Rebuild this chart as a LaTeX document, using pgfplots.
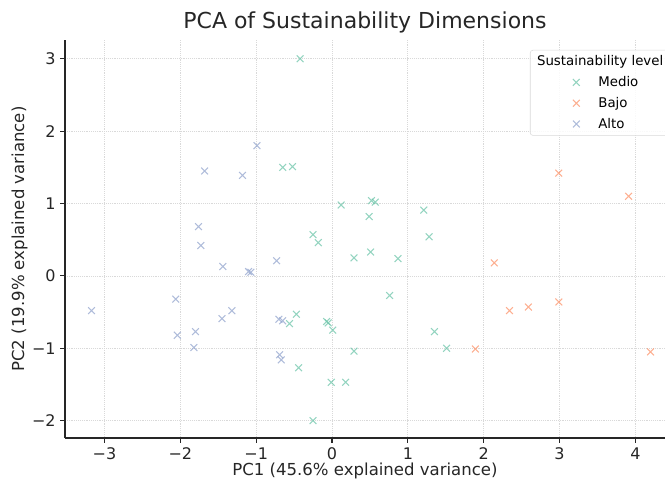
\documentclass[border=0pt]{standalone}
\usepackage{pgfplots}
\pgfplotsset{compat=1.18}
\usepackage{fontspec}
\setmainfont{DejaVu Sans}
\definecolor{cmedio}{HTML}{66C2A5}
\definecolor{cbajo}{HTML}{FC8D62}
\definecolor{calto}{HTML}{8DA0CB}
\definecolor{axgray}{HTML}{262626}
\begin{document}
\begin{tikzpicture}
\begin{axis}[
  scale only axis,
  width=450pt, height=298.5pt,
  xmin=-3.52, xmax=4.39, ymin=-2.24, ymax=3.26,
  axis x line*=bottom, axis y line*=left,
  axis line style={-, axgray, line width=1pt},
  xtick={-3,-2,-1,0,1,2,3,4},
  xticklabels={−3,−2,−1,0,1,2,3,4},
  ytick={-2,-1,0,1,2,3},
  yticklabels={−2,−1,0,1,2,3},
  tick align=outside,
  major tick length=3.5pt,
  tick style={axgray, line width=0.8pt},
  ticklabel style={font=\fontsize{12}{14}\selectfont, text=axgray},
  grid=major,
  major grid style={gray!30, densely dotted, line width=0.6pt},
  title={PCA of Sustainability Dimensions},
  title style={font=\fontsize{16.5}{19}\selectfont, text=axgray, yshift=-4pt},
  xlabel={PC1 (45.6\% explained variance)},
  ylabel={PC2 (19.9\% explained variance)},
  label style={font=\fontsize{12.4}{14}\selectfont, text=axgray},
  xlabel style={yshift=4.5pt},
  ylabel style={yshift=-3.5pt},
  legend style={at={(0.775,0.975)}, anchor=north west, draw=gray!30, fill=white, fill opacity=0.85, text opacity=1,
    rounded corners=2pt, font=\fontsize{10}{12}\selectfont, inner xsep=26pt, inner ysep=2pt,
    row sep=2.5pt},
  legend cell align=left,
]
\addlegendimage{empty legend}
\addlegendentry{\hspace*{-34pt}Sustainability level}
\addplot[only marks, mark=x, mark size=3.6pt, draw=cmedio, line width=0.8pt, draw opacity=0.7] coordinates {
(-0.42,3.00) (-0.65,1.50) (-0.52,1.51) (0.12,0.98) (0.52,1.04) (0.57,1.02)
(0.49,0.82) (1.21,0.91) (1.28,0.54) (-0.25,0.57) (-0.18,0.46) (0.29,0.25)
(0.51,0.33) (0.87,0.24) (0.76,-0.27) (1.35,-0.77) (1.51,-1.00) (0.29,-1.04)
(-0.47,-0.53) (-0.56,-0.66) (-0.07,-0.63) (-0.05,-0.65) (0.01,-0.75)
(-0.44,-1.27) (-0.01,-1.47) (0.18,-1.47) (-0.25,-2.00)
};
\addlegendentry{\hspace*{12pt}Medio}
\addplot[only marks, mark=x, mark size=3.6pt, draw=cbajo, line width=0.8pt, draw opacity=0.7] coordinates {
(2.99,1.42) (3.91,1.10) (2.14,0.18) (2.34,-0.48) (2.59,-0.43) (2.99,-0.36)
(1.89,-1.01) (4.20,-1.05)
};
\addlegendentry{\hspace*{12pt}Bajo}
\addplot[only marks, mark=x, mark size=3.6pt, draw=calto, line width=0.8pt, draw opacity=0.7] coordinates {
(-0.99,1.80) (-1.68,1.45) (-1.18,1.39) (-1.76,0.68) (-1.73,0.42) (-1.44,0.13)
(-1.10,0.06) (-1.07,0.05) (-0.73,0.21) (-2.06,-0.32) (-3.17,-0.48) (-1.32,-0.48)
(-1.45,-0.59) (-2.04,-0.82) (-1.80,-0.77) (-1.82,-0.99) (-0.70,-0.60)
(-0.65,-0.62) (-0.69,-1.09) (-0.67,-1.16)
};
\addlegendentry{\hspace*{12pt}Alto}
\end{axis}
\pgfresetboundingbox
\path (-48.75pt,-33pt) rectangle (450pt,328.5pt);
\end{tikzpicture}
\end{document}
